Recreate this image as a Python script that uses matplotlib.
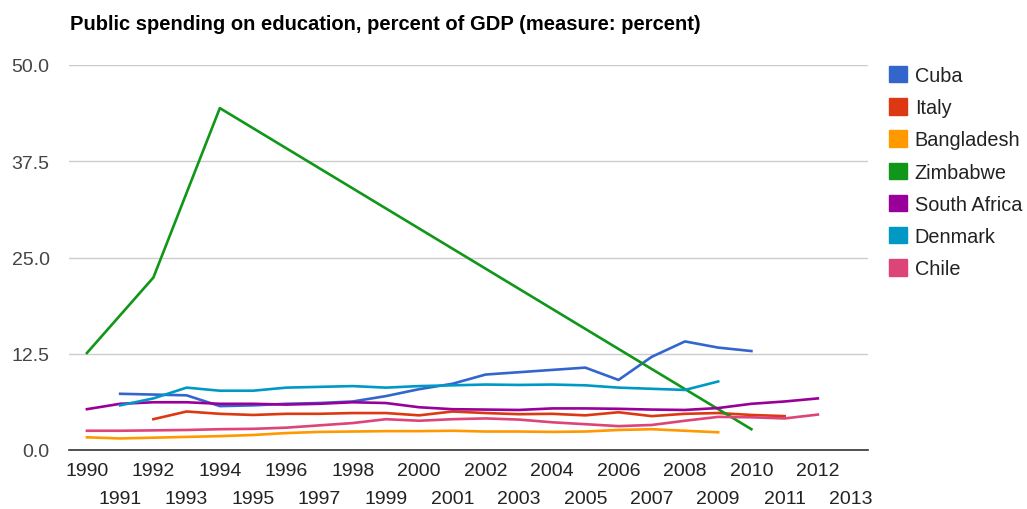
import matplotlib
matplotlib.use("Agg")
import matplotlib.pyplot as plt
from matplotlib.patches import Patch
import numpy as np

nan = np.nan
years = list(range(1990, 2013))

cuba = [nan, 7.3, 7.2, 7.1, 5.7, 5.8, 6.0, 6.1, 6.3, 7.0, 7.9, 8.6,
        9.8, 10.1, 10.4, 10.7, 9.1, 12.1, 14.1, 13.3, 12.85, nan, nan]
italy = [nan, nan, 4.0, 5.0, 4.7, 4.55, 4.7, 4.7, 4.8, 4.8, 4.5, 5.0,
         4.8, 4.65, 4.7, 4.5, 4.9, 4.4, 4.7, 4.8, 4.55, 4.4, nan]
bangladesh = [1.65, 1.5, 1.6, 1.7, 1.8, 1.95, 2.2, 2.35, 2.4, 2.45, 2.45, 2.5,
              2.4, 2.4, 2.35, 2.4, 2.6, 2.7, 2.5, 2.3, nan, nan, nan]
zimbabwe = [12.6, nan, 22.4, nan, 44.4, nan, nan, nan, nan, nan, nan, nan,
            nan, nan, nan, nan, nan, nan, nan, nan, 2.7, nan, nan]
south_africa = [5.3, 6.0, 6.2, 6.2, 6.0, 6.0, 5.9, 6.0, 6.2, 6.1, 5.55, 5.3,
                5.25, 5.2, 5.4, 5.4, 5.35, 5.25, 5.2, 5.45, 6.0, 6.3, 6.7]
denmark = [nan, 5.8, 6.7, 8.1, 7.7, 7.7, 8.1, 8.2, 8.3, 8.1, 8.3, 8.4,
           8.5, 8.45, 8.5, 8.4, 8.1, 7.95, 7.8, 8.9, nan, nan, nan]
chile = [2.5, 2.5, 2.55, 2.6, 2.7, 2.75, 2.9, 3.2, 3.5, 4.0, 3.8, 4.0,
         4.1, 3.95, 3.6, 3.35, 3.1, 3.25, 3.8, 4.3, 4.25, 4.1, 4.6]

series = [
    ("Cuba", cuba, "#3366cc"),
    ("Italy", italy, "#dc3912"),
    ("Bangladesh", bangladesh, "#ff9900"),
    ("Zimbabwe", zimbabwe, "#109618"),
    ("South Africa", south_africa, "#990099"),
    ("Denmark", denmark, "#0099c6"),
    ("Chile", chile, "#dd4477"),
]

plt.rcParams['font.family'] = ['Liberation Sans', 'DejaVu Sans']

fig = plt.figure(figsize=(10.27, 5.10), dpi=100)
W, H = 1027, 510
ax = fig.add_axes([69 / W, (H - 451) / H, (868 - 69) / W, (451 - 66) / H])

x = np.array(years)
for name, vals, color in series:
    y = np.array(vals, dtype=float)
    ok = ~np.isnan(y)
    ax.plot(x[ok], y[ok], color=color, lw=1.9, solid_joinstyle='round', zorder=3)

ax.set_xlim(1989.46, 2013.51)
ax.set_ylim(0, 50)
ax.set_yticks([0, 12.5, 25, 37.5, 50])
ax.set_yticklabels(["0.0", "12.5", "25.0", "37.5", "50.0"])
ax.yaxis.grid(True, color="#cccccc", lw=1)
ax.set_axisbelow(True)

# alternate year labels on two rows
ax.set_xticks(range(1990, 2013, 2))
ax.set_xticks(range(1991, 2014, 2), minor=True)
ax.set_xticklabels([str(v) for v in range(1990, 2013, 2)])
ax.set_xticklabels([str(v) for v in range(1991, 2014, 2)], minor=True)
ax.tick_params(axis='x', which='major', length=0, pad=8.5, labelsize=14, labelcolor="#222222")
ax.tick_params(axis='x', which='minor', length=0, pad=29, labelsize=14, labelcolor="#222222")
ax.tick_params(axis='y', length=0, pad=14, labelsize=14, labelcolor="#444444")

for s in ['top', 'right', 'left']:
    ax.spines[s].set_visible(False)
ax.spines['bottom'].set_color("#333333")
ax.spines['bottom'].set_linewidth(1.2)

fig.text(70 / W, 1 - 25 / H, "Public spending on education, percent of GDP (measure: percent)",
         fontsize=14.5, fontweight='bold', va='center', ha='left', color="#000000")

handles = [Patch(facecolor=c, edgecolor=c, label=n) for n, _, c in series]
fig.legend(handles=handles, loc='upper left', bbox_to_anchor=(881 / W, 1 - 59 / H),
           frameon=False, fontsize=14.3, handlelength=0.9, handleheight=0.9,
           handletextpad=0.4, labelspacing=0.66, borderaxespad=0, labelcolor="#222222")

fig.savefig("out.png", dpi=100)
